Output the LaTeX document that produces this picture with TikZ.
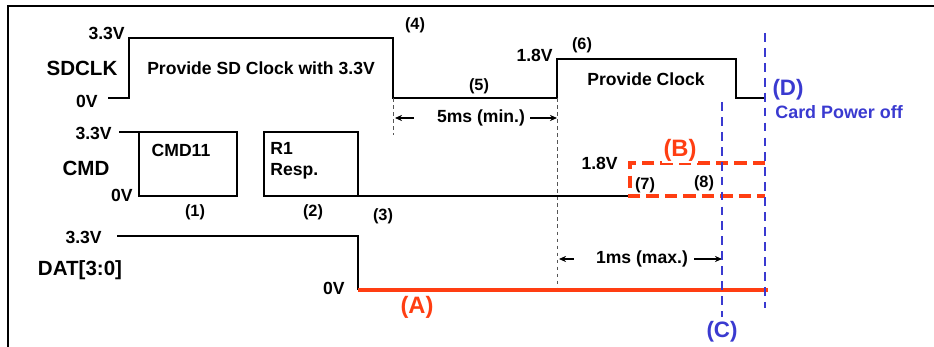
\documentclass[tikz,border=0pt]{standalone}
\usepackage{fontspec}
\setmainfont{Liberation Sans}
\usetikzlibrary{arrows.meta, positioning}
\definecolor{sigred}{RGB}{255,62,18}
\definecolor{sigblue}{RGB}{58,58,208}
\definecolor{guidegray}{RGB}{85,85,85}

\begin{document}
\begin{tikzpicture}[
    x=0.02cm, y=-0.02cm,
    lbl/.style={font=\bfseries\fontsize{10}{12}\selectfont, inner sep=0pt},
    biglbl/.style={font=\bfseries\fontsize{11.7}{14}\selectfont, inner sep=0pt},
    numlbl/.style={font=\bfseries\fontsize{9.3}{11}\selectfont, inner sep=0pt},
    redlbl/.style={font=\bfseries\fontsize{13.5}{16}\selectfont, inner sep=0pt, text=sigred},
    bluelbl/.style={font=\bfseries\fontsize{12.7}{15}\selectfont, inner sep=0pt, text=sigblue},
    wave/.style={line width=1pt},
    thinwave/.style={line width=0.65pt},
    guide/.style={guidegray, line width=0.5pt, dash pattern=on 2pt off 2pt},
    powerline/.style={sigblue, line width=1.2pt, dash pattern=on 5pt off 3.5pt},
    redline/.style={sigred, line width=1.8pt},
    reddash/.style={redline, dash pattern=on 7pt off 3.5pt},
    arrow/.style={-{Stealth[length=4pt,width=3.5pt]}, line width=0.7pt}
]
\useasboundingbox (0,0) rectangle (934,347);

% frame
\draw[line width=1.1pt] (8,347) -- (8,6) -- (934,6);

% time marks
\coordinate (t4) at (393,98);
\coordinate (t6) at (557,98);
\coordinate (tc) at (722,102);
\coordinate (td) at (765,33);

% SDCLK
\node[lbl, anchor=east] (clkhi) at (125,33) {3.3V};
\node[biglbl] (sdclk) at (82,68) {SDCLK};
\node[lbl, anchor=east] (clklo) at (98,101) {0V};
\draw[wave] (108,98) -- (129,98) -- (129,38) -- (393,38) -- (t4) -- (t6)
  -- (557,59) -- (736,59) -- (736,98) -- (765,98);
\node[lbl] (clk33) at (261,68) {Provide SD Clock with 3.3V};
\node[numlbl] (n4) at (415,25) {(4)};
\node[numlbl] (n5) at (479,86) {(5)};
\node[lbl, anchor=east] (clkmid) at (553,55) {1.8V};
\node[numlbl] (n6) at (582,45) {(6)};
\node[lbl] (clk18) at (646,79) {Provide Clock};

% guides
\draw[guide] (t4) -- (393,135);
\draw[guide] (t6) -- (557,290);
\node[lbl] (tmin) at (481,118) {5ms (min.)};
\draw[arrow] ([xshift=-0.46cm]tmin.west) -- ([xshift=0.04cm]t4 |- tmin);
\draw[arrow] ([xshift=0.1cm]tmin.east) -- (t6 |- tmin);
\node[lbl] (tmax) at (642,259) {1ms (max.)};
\draw[arrow] ([xshift=-0.44cm]tmax.west) -- ([xshift=0.04cm]t6 |- tmax);
\draw[arrow] ([xshift=0.12cm]tmax.east) -- (tc |- tmax);

% CMD
\node[lbl, anchor=east] (cmdhi) at (112,133) {3.3V};
\node[biglbl] (cmd) at (86,168) {CMD};
\node[lbl, anchor=east] (cmdlo) at (133,195) {0V};
\draw[thinwave] (119,132) -- (237,132);
\draw[thinwave] (139,132) rectangle (237,196);
\draw[thinwave] (264,132) rectangle (358,196);
\draw[thinwave] (264,196) -- (630,196);
\node[lbl] (cmd11) at (181,150) {CMD11};
\node[lbl, anchor=west, align=left] (resp) at (270,161) {R1\\Resp.};
\node[numlbl] (n1) at (195,212) {(1)};
\node[numlbl] (n2) at (313,212) {(2)};
\node[numlbl] (n3) at (383,216) {(3)};

% CMD at 1.8V
\draw[reddash] (765,163) -- (630,163) -- (630,196) -- (765,196);
\node[lbl, anchor=east] (cmdmid) at (618,163) {1.8V};
\node[redlbl, fill=white, inner sep=1pt] (lblB) at (680,150) {(B)};
\node[numlbl] (n7) at (645,185) {(7)};
\node[numlbl] (n8) at (704,183) {(8)};

% DAT[3:0]
\node[lbl, anchor=east] (dathi) at (102,237) {3.3V};
\node[biglbl] (dat) at (80,270) {DAT[3:0]};
\node[lbl, anchor=east] (datlo) at (345,288) {0V};
\draw[thinwave] (117,236) -- (358,236) -- (358,290);
\draw[redline] (358,290) -- (768,290);
\node[redlbl] (lblA) at (417,307) {(A)};

% power off
\draw[powerline] (tc) -- (722,317);
\node[bluelbl] (lblC) at (722,332) {(C)};
\draw[powerline] (td) -- (765,308);
\node[bluelbl] (lblD) at (788,90) {(D)};
\node[font=\bfseries\fontsize{10.2}{12}\selectfont, text=sigblue, inner sep=0pt,
  anchor=west] (poff) at (775,112) {Card Power off};
\end{tikzpicture}
\end{document}
